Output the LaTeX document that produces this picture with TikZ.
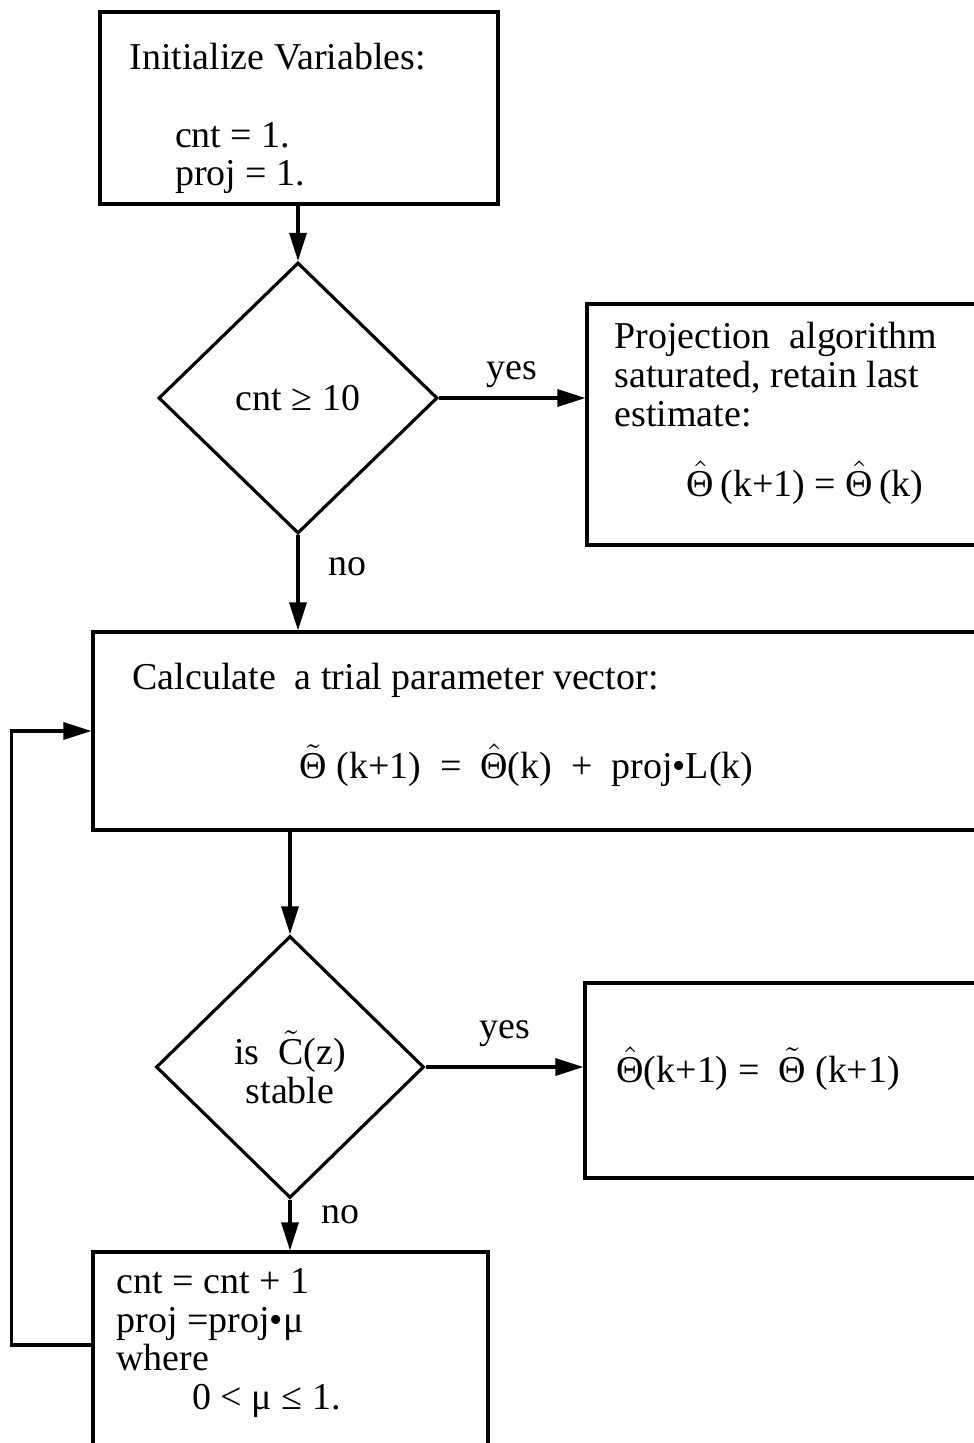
\documentclass[tikz,border=0pt]{standalone}
\usepackage{amsmath}
\usepackage{fontspec}
\setmainfont{Liberation Serif}
\usetikzlibrary{shapes.geometric, arrows.meta, positioning, calc}
\newcommand{\thhat}{\ensuremath{\hat{\text{Θ}}}}
\newcommand{\thtil}{\ensuremath{\tilde{\text{Θ}}}}
\newcommand{\ctil}{\ensuremath{\tilde{\text{C}}}}

\begin{document}
\begin{tikzpicture}[
    font=\fontsize{10.8}{11}\selectfont,
    line width=0.9pt,
    box/.style={draw, rectangle, inner sep=0pt},
    boxtext/.style={anchor=north west, align=left, inner sep=0pt},
    decision/.style={draw, diamond, inner sep=0pt, align=center},
    arr/.style={-{Triangle[length=0.28cm, width=0.17cm]}}
]
    \useasboundingbox (0,0) rectangle (9.74,-14.43);

    % Initial values
    \node[box, minimum width=3.98cm, minimum height=1.92cm] (init) at (2.99,-1.08) {};
    \node[boxtext] (inittxt) at (1.28,-0.42) {Initialize Variables:\\[11pt]
        \hspace*{1.2em}cnt = 1.\\
        \hspace*{1.2em}proj = 1.};

    % Saturation test
    \node[decision, minimum width=2.79cm, minimum height=2.71cm] (test1) at (2.98,-3.98) {cnt ≥ 10};

    \node[box, minimum width=4.13cm, minimum height=2.41cm] (keep) at (7.935,-4.245) {};
    \node[boxtext] (keeptxt) at (6.13,-3.21) {Projection\ \ algorithm\\
        saturated, retain last\\
        estimate:\\[9pt]
        \hspace*{1.9em}\thhat\,(k+1) = \thhat\,(k)};

    % Trial vector
    \node[box, minimum width=9.17cm, minimum height=1.98cm] (trial) at (5.515,-7.31) {};
    \node[boxtext] (trialtxt) at (1.31,-6.62) {Calculate\ \ a trial parameter vector:\\[12pt]
        \hspace*{4.4em}\thtil\ (k+1) \ = \ \thhat(k) \ + \ proj•L(k)};

    % Stability test
    \node[decision, minimum width=2.68cm, minimum height=2.62cm] (test2) at (2.90,-10.67) {is \ \ctil(z)\\stable};

    \node[box, minimum width=4.25cm, minimum height=1.95cm] (accept) at (7.975,-10.805) {};
    \node[anchor=base west, inner sep=0pt] (accepttxt) at (6.15,-10.82) {\thhat(k+1) = \ \thtil\ (k+1)};

    % Shrink step
    \node[box, minimum width=3.95cm, minimum height=2.0cm] (shrink) at (2.905,-13.52) {};
    \node[boxtext] (shrinktxt) at (1.15,-12.67) {cnt = cnt + 1\\
        proj =proj•μ\\
        where\\
        \hspace*{2em}0 < μ ≤ 1.};

    % Arrows
    \draw[arr] (init.south -| test1.north) -- (test1.north);
    \draw[arr] (test1.east) -- (test1.east -| keep.west)
        node[midway, above=-0.03cm] (yes1) {yes};
    \draw[arr] (test1.south) -- (test1.south |- trial.north)
        node[pos=0.33, right=0.17cm] (no1) {no};
    \draw[arr] (test2.north |- trial.south) -- (test2.north);
    \draw[arr] (test2.east) -- (test2.east -| accept.west)
        node[midway, above=0.07cm] (yes2) {yes};
    \draw[arr] (test2.south) -- (test2.south |- shrink.north)
        node[pos=0.3, right=0.18cm] (no2) {no};
    \draw[arr] ([yshift=0.7mm]shrink.west) -- ++(-0.8,0) |- (trial.west);
\end{tikzpicture}
\end{document}
